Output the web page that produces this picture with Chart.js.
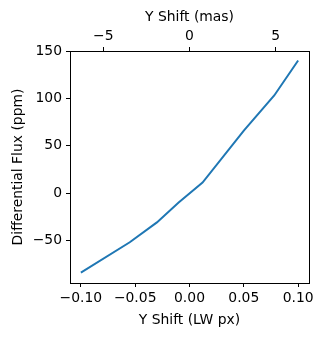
<!DOCTYPE html>
<html>
<head>
<meta charset="utf-8">
<script src="https://cdn.jsdelivr.net/npm/chart.js@4.4.1/dist/chart.umd.min.js"></script>
<style>
  html, body { margin: 0; padding: 0; background: #fff; }
  #wrap { width: 324px; height: 337px; }
</style>
</head>
<body>
<div id="wrap"><canvas id="grafico"></canvas></div>
<script>
// Datos
const shiftPx = [-0.1, -0.055, -0.03, -0.01, 0.012, 0.05, 0.078, 0.1];
const fluxPpm = [-84, -52, -31, -10, 11, 66, 103, 140];

const ticksPx = [-0.1, -0.05, 0, 0.05, 0.1];
const ticksMas = [-5, 0, 5];
const ticksPpm = [-50, 0, 50, 100, 150];

const masPorPx = 63;   // conversión del eje superior
const xMin = -0.11, xMax = 0.11;
const yMin = -95, yMax = 150;

const fuente = { family: 'DejaVu Sans', size: 13.9 };
const menos = s => String(s).replace('-', '\u2212');

function fijarTicks(lista) {
    return scale => { scale.ticks = lista.map(v => ({ value: v })); };
}

// marco alrededor del área del gráfico
const marco = {
    id: 'marco',
    afterDraw(chart) {
        const { ctx, chartArea: a } = chart;
        ctx.save();
        ctx.strokeStyle = '#000';
        ctx.lineWidth = 1;
        ctx.strokeRect(Math.round(a.left) + 0.5, Math.round(a.top) + 0.5,
            Math.round(a.right - a.left), Math.round(a.bottom - a.top));
        ctx.restore();
    }
};

const rejilla = { display: true, drawOnChartArea: false, drawTicks: true, tickLength: 4, color: '#000', lineWidth: 1 };

new Chart(document.getElementById('grafico'), {
    type: 'line',
    data: {
        datasets: [{
            data: shiftPx.map((x, i) => ({ x: x, y: fluxPpm[i] })),
            borderColor: '#1f77b4',
            borderWidth: 2,
            pointRadius: 0,
            tension: 0,
            fill: false,
            xAxisID: 'x',
            yAxisID: 'y'
        }]
    },
    options: {
        responsive: true,
        maintainAspectRatio: false,
        animation: false,
        layout: { padding: { left: 0, right: 15, top: 0, bottom: 0 } },
        plugins: { legend: { display: false }, tooltip: { enabled: false } },
        scales: {
            x: {
                type: 'linear', position: 'bottom', min: xMin, max: xMax,
                afterBuildTicks: fijarTicks(ticksPx),
                afterFit: s => { s.height = 54; },
                grid: rejilla,
                border: { display: false },
                ticks: { color: '#000', font: fuente, padding: 3, maxRotation: 0,
                    callback: v => menos(v.toFixed(2)) },
                title: { display: true, text: 'Y Shift (LW px)', color: '#000', font: fuente,
                    padding: { top: 0, bottom: 8 } }
            },
            x2: {
                type: 'linear', position: 'top', min: xMin * masPorPx, max: xMax * masPorPx,
                afterBuildTicks: fijarTicks(ticksMas),
                afterFit: s => { s.height = 51; },
                grid: rejilla,
                border: { display: false },
                ticks: { color: '#000', font: fuente, padding: 2, maxRotation: 0,
                    callback: v => menos(v) },
                title: { display: true, text: 'Y Shift (mas)', color: '#000', font: fuente,
                    padding: { top: 9, bottom: 0 } }
            },
            y: {
                type: 'linear', position: 'left', min: yMin, max: yMax,
                afterBuildTicks: fijarTicks(ticksPpm),
                afterFit: s => { s.width = 70; },
                grid: rejilla,
                border: { display: false },
                ticks: { color: '#000', font: fuente, padding: 4,
                    callback: v => menos(v) },
                title: { display: true, text: 'Differential Flux (ppm)', color: '#000', font: fuente,
                    padding: { top: 10, bottom: 0 } }
            }
        }
    },
    plugins: [marco]
});
</script>
</body>
</html>
